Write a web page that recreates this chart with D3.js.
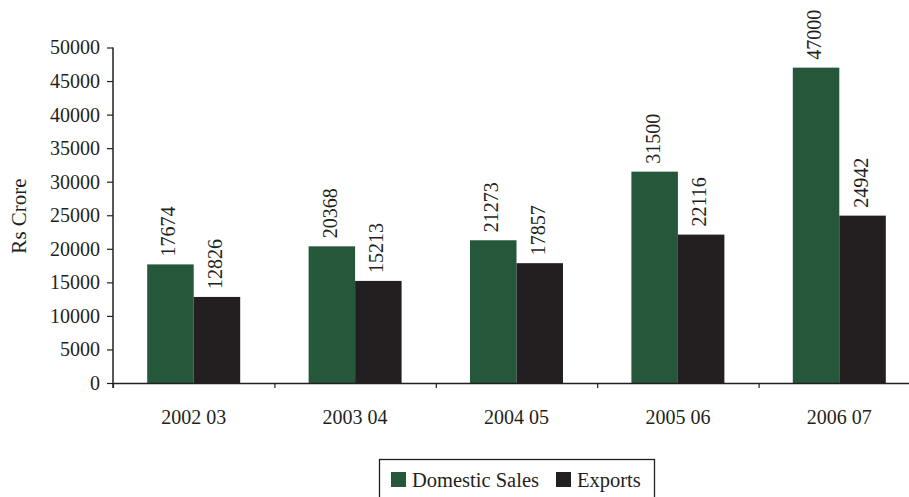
<!DOCTYPE html>
<html>
<head>
<meta charset="utf-8">
<script src="https://cdn.jsdelivr.net/npm/d3@7"></script>
<style>
  html, body { margin: 0; padding: 0; background: #fff; }
  svg { display: block; overflow: hidden; }
  text { font-family: "Liberation Serif", "DejaVu Serif", serif; fill: #231f20; }
</style>
</head>
<body>
<svg id="chart" width="909" height="497"></svg>
<script>
// Domestic sales and exports, Rs crore, by financial year
const years = ["2002 03", "2003 04", "2004 05", "2005 06", "2006 07"];
const seriesNames = ["Domestic Sales", "Exports"];
const domesticSales = [17674, 20368, 21273, 31500, 47000];
const exportValues = [12826, 15213, 17857, 22116, 24942];
const yTicks = [0, 5000, 10000, 15000, 20000, 25000, 30000, 35000, 40000, 45000, 50000];
const colors = ["#25573a", "#231f20"];

const rows = years.map((yr, i) => ({ year: yr, values: [domesticSales[i], exportValues[i]] }));

const svg = d3.select("#chart");
const plotLeft = 113, plotTop = 47.5, plotBottom = 383, plotRight = 920;
const fontSize = 20;

const x = d3.scaleBand().domain(years).range([plotLeft, plotRight]).paddingInner(0).paddingOuter(0);
const groupW = 93;
const xInner = d3.scaleBand().domain(seriesNames).range([0, groupW]);
const y = d3.scaleLinear().domain([0, 50000]).range([plotBottom, plotTop]);

// Bars
const groups = svg.append("g").selectAll("g").data(rows).join("g")
  .attr("transform", d => `translate(${x(d.year) + (x.bandwidth() - groupW) / 2},0)`);

groups.selectAll("rect").data(d => d.values.map((v, i) => ({ v, i })))
  .join("rect")
  .attr("x", d => xInner(seriesNames[d.i]))
  .attr("y", d => y(d.v))
  .attr("width", xInner.bandwidth())
  .attr("height", d => y(0) - y(d.v))
  .attr("fill", d => colors[d.i]);

// Value labels, rotated above each bar
groups.selectAll("text.val").data(d => d.values.map((v, i) => ({ v, i })))
  .join("text")
  .attr("class", "val")
  .attr("font-size", fontSize)
  .attr("text-anchor", "start")
  .attr("dy", "0.35em")
  .attr("transform", d => `translate(${xInner(seriesNames[d.i]) + xInner.bandwidth() / 2 - 2},${y(d.v) - 8}) rotate(-90)`)
  .text(d => d.v);

// Y axis
const yAxis = svg.append("g").attr("transform", `translate(${plotLeft},0)`)
  .call(d3.axisLeft(y).tickValues(yTicks).tickFormat(d3.format("d")).tickSize(6).tickPadding(7));
yAxis.select(".domain").attr("stroke", "#231f20").attr("stroke-width", 1.5)
  .attr("d", `M0,${plotTop}V${plotBottom + 5}`);
yAxis.selectAll(".tick line").attr("stroke", "#231f20").attr("stroke-width", 1.2);
yAxis.selectAll("text").attr("font-size", fontSize).attr("fill", "#231f20");

// X axis: labels at category centres, ticks on category boundaries
const xAxis = svg.append("g").attr("transform", `translate(0,${plotBottom})`)
  .call(d3.axisBottom(x).tickSize(0).tickPadding(27));
xAxis.select(".domain").attr("stroke", "#231f20").attr("stroke-width", 1.5);
xAxis.selectAll("text").attr("font-size", fontSize).attr("fill", "#231f20");

const xb = d3.scaleLinear().domain([0, years.length]).range([plotLeft, plotRight]);
const xTicks = svg.append("g").attr("transform", `translate(0,${plotBottom})`)
  .call(d3.axisBottom(xb).ticks(years.length).tickFormat("").tickSize(5));
xTicks.select(".domain").remove();
xTicks.selectAll(".tick line").attr("stroke", "#231f20").attr("stroke-width", 1.2);

// Y axis title
svg.append("text")
  .attr("transform", `translate(19,216) rotate(-90)`)
  .attr("text-anchor", "middle")
  .attr("dy", "0.35em")
  .attr("font-size", 21)
  .text("Rs Crore");

// Legend
const legend = svg.append("g");
legend.append("rect")
  .attr("x", 379.5).attr("y", 459.5).attr("width", 275).attr("height", 50)
  .attr("fill", "none").attr("stroke", "#231f20").attr("stroke-width", 1.3);
const legendX = [391, 556];
seriesNames.forEach((name, i) => {
  legend.append("rect")
    .attr("x", legendX[i]).attr("y", 472).attr("width", 15).attr("height", 15)
    .attr("fill", colors[i]);
  legend.append("text")
    .attr("x", legendX[i] + 21).attr("y", 487)
    .attr("font-size", 20.5)
    .text(name);
});
</script>
</body>
</html>
